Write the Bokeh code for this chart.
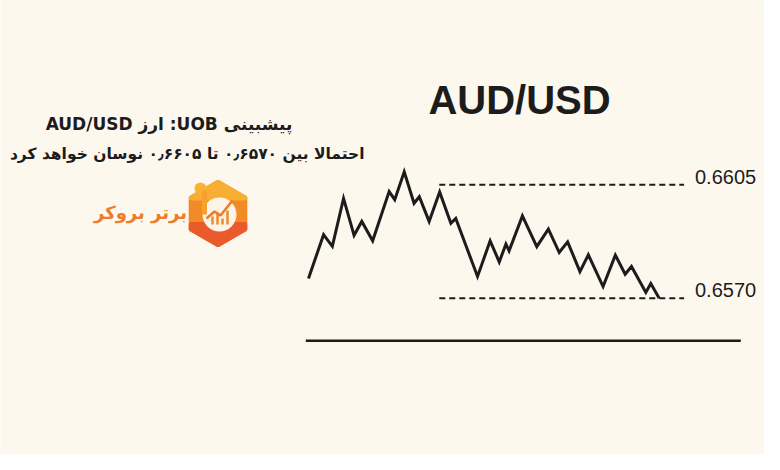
from bokeh.plotting import figure
from bokeh.models import Range1d
from bokeh.core.properties import value
from bokeh.embed import file_html
from bokeh.resources import INLINE

# ---- data ----
t = [0, 4.3, 6.8, 10.0, 13.0, 15.2, 18.3, 23.0, 24.6, 27.3, 30.1, 31.6, 34.4, 37.4,
     40.6, 42.0, 48.2, 51.8, 54.4, 56.3, 57.2, 61.0, 65.1, 68.4, 71.5, 73.9, 77.4,
     79.8, 84.0, 87.5, 90.3, 92.1, 96.2, 97.6, 100.0]
price = [0.65761, 0.65896, 0.65860, 0.66008, 0.65894, 0.65937, 0.65877, 0.66029,
         0.66004, 0.66090, 0.65993, 0.66013, 0.65937, 0.66028, 0.65931, 0.65946,
         0.65767, 0.65877, 0.65812, 0.65867, 0.65846, 0.65954, 0.65859, 0.65913,
         0.65841, 0.65874, 0.65782, 0.65834, 0.65736, 0.65833, 0.65774, 0.65798,
         0.65718, 0.65745, 0.65700]
levels = [0.6605, 0.6570]
level_labels = ["0.6605", "0.6570"]
level_span = [37.3, 107.1]
title = "AUD/USD"
headline = ["\u202bپیشبینی UOB: ارز AUD/USD\u202c",
            "\u202bاحتمالا بین \u2066۰٫۶۵۷۰\u2069 تا \u2066۰٫۶۶۰۵\u2069 نوسان خواهد کرد\u202c"]
brand = "\u202bبرتر بروکر\u202c"

BG = "#fdf8ee"
INK = "#1c1c1c"

p = figure(width=764, height=454, output_backend="svg", toolbar_location=None,
           x_range=Range1d(-87.82, 130.03), y_range=Range1d(0.652176, 0.666188),
           min_border=0, outline_line_color=None,
           background_fill_color=BG, border_fill_color=BG)
p.axis.visible = False
p.grid.visible = False
# pixel-layout ranges (image coordinates, y downward)
p.extra_x_ranges = {"px": Range1d(8, 772)}
p.extra_y_ranges = {"px": Range1d(462, 8)}
PX = dict(x_range_name="px", y_range_name="px")

# title
p.text(x=[527], y=[107], text=[title], text_font=value("Liberation Sans"),
       text_font_style="bold", text_font_size="40px", text_color=INK,
       text_align="center", text_baseline="middle", **PX)

# price line
p.line(t, price, line_width=3, line_color=INK, line_join="miter")

# dashed levels
for lv, lab in zip(levels, level_labels):
    p.line(level_span, [lv, lv], line_width=2, line_color=INK, line_dash="6 4")
    p.text(x=[level_span[1] + 3.1], y=[lv], text=[lab], text_font=value("Liberation Sans"),
           text_font_size="20px", text_color=INK, text_align="left",
           text_baseline="middle", y_offset=-8)

# baseline
p.line([313.3, 748.3], [348.3, 348.3], line_width=2.5, line_color=INK, **PX)

# Persian headline
p.text(x=[176.5], y=[131], text=[headline[0]], text_font=value("DejaVu Sans"),
       text_font_style="bold", text_font_size="17px", text_color=INK,
       text_align="center", text_baseline="middle", **PX)
p.text(x=[372], y=[161], text=[headline[1]], text_font=value("DejaVu Sans"),
       text_font_style="bold", text_font_size="15.5px", text_color=INK,
       text_align="right", text_baseline="middle", **PX)

# logo
hx = [225.5, 252.3, 252.3, 225.5, 198.7, 198.7]
hy = [190, 205.5, 236.5, 252, 236.5, 205.5]
p.patch(hx, hy, fill_color="#f28a26", line_color="#f28a26", line_width=5,
        line_join="round", **PX)
p.patch([198.7, 252.3, 252.3, 225.5, 198.7], [232, 232, 236.5, 252, 236.5],
        fill_color="#ea5a2b", line_color="#ea5a2b", line_width=5, line_join="round", **PX)
p.patch([225.5, 252.3, 198.7], [190, 205.5, 205.5],
        fill_color="#f7ae33", line_color="#f7ae33", line_width=5, line_join="round", **PX)
p.circle(x=[227], y=[222], radius=17, fill_color="#fdf3e6", line_color=None, **PX)
p.circle(x=[208], y=[196], radius=6, fill_color="#f9b233", line_color=None, **PX)
p.line([212, 212], [198, 222], line_width=5, line_color="#f6a030", **PX)
p.vbar(x=[220, 225, 230, 235], bottom=[232, 232, 232, 232], top=[224, 220, 226, 218],
       width=2.5, fill_color="#f08a2a", line_color=None, **PX)
p.line([214, 222, 228, 240], [226, 219, 223, 208], line_width=2.5, line_color="#ee7a28", **PX)

p.text(x=[148], y=[220], text=[brand], text_font=value("DejaVu Sans"),
       text_font_style="bold", text_font_size="18px", text_color="#ee7d2b",
       text_align="center", text_baseline="middle", **PX)

html = file_html(p, INLINE)
html = html.replace("<body>", '<body style="background-color:%s">' % BG, 1)
open("out.html", "w").write(html)
